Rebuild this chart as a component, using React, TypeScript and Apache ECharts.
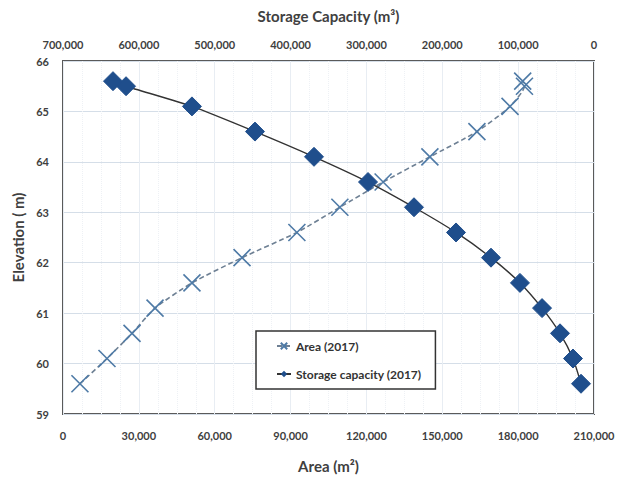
import React, { useEffect, useRef } from "react";
import * as echarts from "echarts";

const areaElev = [59.6, 60.1, 60.6, 61.1, 61.6, 62.1, 62.6, 63.1, 63.6, 64.1, 64.6, 65.1, 65.5, 65.6];
const areaValues = [6700, 17400, 27300, 36400, 51000, 70800, 92500, 109500, 126600, 145100, 163700, 176800, 182500, 181800];

const storageElev = [59.6, 60.1, 60.6, 61.1, 61.6, 62.1, 62.6, 63.1, 63.6, 64.1, 64.6, 65.1, 65.5, 65.6];
const storageValues = [17100, 27700, 44800, 68500, 97600, 135800, 181900, 237300, 297900, 369100, 446900, 530000, 616900, 634100];

const areaTicks = { min: 0, max: 210000, interval: 30000 };
const storageTicks = { min: 0, max: 700000, interval: 100000 };
const elevTicks = { min: 59, max: 66, interval: 1 };

const FONT = "Lato, 'Open Sans', sans-serif";
const fmt = (v: number) => Math.round(v).toLocaleString("en-US");

export default function App() {
  const ref = useRef<HTMLDivElement>(null);
  useEffect(() => {
    if (!ref.current) return;
    const chart = echarts.init(ref.current, undefined, { renderer: "svg" });
    const xPath = "path://M0,0L10,10M10,0L0,10";
    chart.setOption({
      animation: false,
      textStyle: { fontFamily: FONT },
      grid: {
        left: 63,
        right: 29,
        top: 61,
        bottom: 64,
        show: true,
        borderColor: "#5a5a5a",
        borderWidth: 2,
        backgroundColor: "#fff",
      },
      legend: {
        left: 256,
        top: 331,
        orient: "vertical",
        backgroundColor: "#fff",
        borderColor: "#333",
        borderWidth: 1.5,
        borderRadius: 0,
        padding: [9, 14, 9, 20],
        itemGap: 16,
        itemWidth: 14,
        itemHeight: 8,
        textStyle: { fontFamily: FONT, fontWeight: "bold", fontSize: 12, color: "#333" },
        data: ["Area (2017)", "Storage capacity (2017)"],
      },
      xAxis: [
        {
          type: "value",
          position: "bottom",
          min: areaTicks.min,
          max: areaTicks.max,
          interval: areaTicks.interval,
          name: "Area (m²)",
          nameLocation: "middle",
          nameGap: 44,
          nameTextStyle: { fontFamily: FONT, fontWeight: "bold", fontSize: 15, color: "#404040" },
          axisLine: { show: false },
          axisTick: { show: false },
          axisLabel: {
            formatter: fmt,
            margin: 16,
            fontFamily: FONT,
            fontWeight: "bold",
            fontSize: 11,
            color: "#404040",
            showMinLabel: true,
            showMaxLabel: true,
          },
          splitLine: { show: true, lineStyle: { color: "#e8edf3", width: 1 } },
          minorTick: { show: false, splitNumber: 4 },
          minorSplitLine: { show: true, lineStyle: { color: "#eef1f5", width: 1, type: "dotted" } },
        },
        {
          type: "value",
          position: "top",
          inverse: true,
          min: storageTicks.min,
          max: storageTicks.max,
          interval: storageTicks.interval,
          name: "Storage Capacity (m³)",
          nameLocation: "middle",
          nameGap: 38,
          nameTextStyle: { fontFamily: FONT, fontWeight: "bold", fontSize: 15, color: "#404040" },
          axisLine: { show: false },
          axisTick: { show: false },
          axisLabel: {
            formatter: fmt,
            margin: 11,
            fontFamily: FONT,
            fontWeight: "bold",
            fontSize: 11,
            color: "#404040",
            showMinLabel: true,
            showMaxLabel: true,
          },
          splitLine: { show: false },
        },
      ],
      yAxis: {
        type: "value",
        min: elevTicks.min,
        max: elevTicks.max,
        interval: elevTicks.interval,
        name: "Elevation ( m)",
        nameLocation: "middle",
        nameGap: 38,
        nameTextStyle: { fontFamily: FONT, fontWeight: "bold", fontSize: 15, color: "#404040" },
        axisLine: { show: false },
        axisTick: { show: false },
        axisLabel: {
          margin: 14,
          fontFamily: FONT,
          fontWeight: "bold",
          fontSize: 11,
          color: "#404040",
        },
        splitLine: { show: true, lineStyle: { color: "#d5dee8", width: 1.2 } },
      },
      series: [
        {
          name: "Area (2017)",
          type: "line",
          xAxisIndex: 0,
          yAxisIndex: 0,
          data: areaValues.map((v, i) => [v, areaElev[i]]),
          symbol: xPath,
          symbolSize: 17,
          smooth: 0.2,
          lineStyle: { color: "#6e8094", width: 1.6, type: [5, 3] },
          itemStyle: { color: "transparent", borderColor: "#4e7aa6", borderWidth: 1.6 },
          z: 3,
        },
        {
          name: "Storage capacity (2017)",
          type: "line",
          xAxisIndex: 1,
          yAxisIndex: 0,
          data: storageValues.map((v, i) => [v, storageElev[i]]),
          symbol: "diamond",
          symbolSize: [19, 19],
          smooth: 0.2,
          lineStyle: { color: "#333", width: 1.4 },
          itemStyle: { color: "#1f4e8c", borderColor: "#1f4e8c" },
          z: 4,
        },
      ],
    });
    return () => chart.dispose();
  }, []);
  return (
    <div
      ref={ref}
      style={{ position: "absolute", left: 0, top: 0, width: 623, height: 478 }}
    />
  );
}
